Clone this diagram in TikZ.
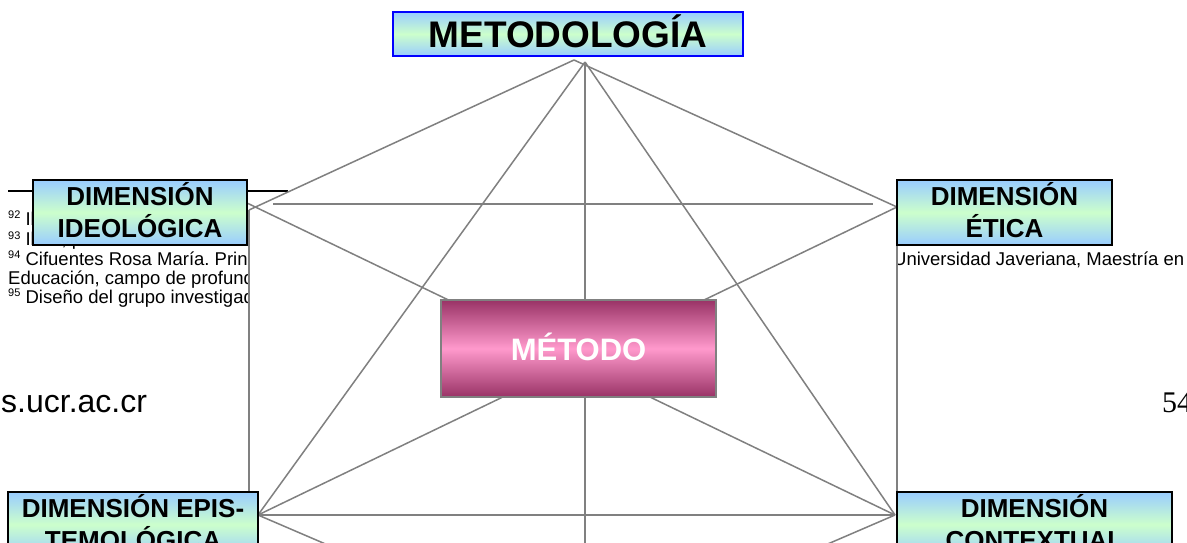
\documentclass[tikz,border=0pt]{standalone}
\usepackage{fontspec}
\setmainfont{Liberation Sans}
\newfontfamily\serifnum{Liberation Serif}
\frenchspacing
\definecolor{gline}{HTML}{808080}
\definecolor{lblue}{HTML}{99CCFF}
\definecolor{lgreen}{HTML}{CCFFCC}
\definecolor{dmag}{HTML}{993366}
\definecolor{lpink}{HTML}{FF99CC}
\newcommand\fnum[1]{\raisebox{6.5pt}{\fontsize{11}{11}\selectfont #1}}
\tikzset{
  conn/.style={draw=gline, line width=1.5pt},
  dimbox/.style={draw=black, line width=1.6pt, top color=lblue, bottom color=lblue, middle color=lgreen, inner sep=0pt, minimum height=65pt},
  metbox/.style={draw=blue, line width=1.6pt, top color=lblue, bottom color=lblue, middle color=lgreen, inner sep=0pt},
  metodobox/.style={draw=gline, line width=1.8pt, top color=dmag, bottom color=dmag, middle color=lpink, inner sep=0pt},
  dimtext/.style={font=\fontsize{26}{31}\selectfont\bfseries, anchor=base, inner sep=0pt},
  fntext/.style={font=\fontsize{18.5}{20}\selectfont, anchor=base west, inner sep=0pt}
}
\begin{document}
\begin{tikzpicture}[x=1pt,y=-1pt]
\useasboundingbox (0,0) rectangle (1187,542);
\clip (0,0) rectangle (1187,542);
\fill[white] (0,0) rectangle (1187,542);

% footnote area of the page behind the diagram
\draw[black, line width=1.5pt] (8,191) -- (288,191);
\node[fntext] (f92) at (8,225) {\fnum{92} Ibíd.};
\node[fntext] (f93) at (8,245.5) {\fnum{93} Ibíd., p. 100.};
\node[fntext] (f94) at (8,265) {\fnum{94} Cifuentes Rosa María. Principios};
\node[fntext] (f94b) at (893,265) {Universidad Javeriana, Maestría en};
\node[fntext] (f94c) at (8,284) {Educación, campo de profundización};
\node[fntext] (f95) at (8,303) {\fnum{95} Diseño del grupo investigador};
\node[font=\fontsize{32}{32}\selectfont, anchor=base west, inner sep=0pt] (url) at (1,412) {s.ucr.ac.cr};
\node[font=\fontsize{30}{30}\selectfont\serifnum, anchor=base west, inner sep=0pt] (pnum) at (1162,412) {54};

% diagram background
\fill[white] (249,195) rectangle (897,542);

% connection points
\coordinate (apL) at (574,60);
\coordinate (apR) at (585,62);
\coordinate (ideoR) at (249,210);
\coordinate (ideoD) at (247,203);
\coordinate (eticaL) at (897,207);
\coordinate (episR) at (258,515);
\coordinate (episV) at (249,515);
\coordinate (contL) at (895,515);
\coordinate (contV) at (897,515);
\coordinate (hL) at (273,204);
\coordinate (hR) at (873,204);
\coordinate (bot) at (577,652);
\coordinate (botv) at (585,660);

% connectors
\draw[conn] (apL) -- (ideoR);
\draw[conn] (apL) -- (eticaL);
\draw[conn] (apR) -- (episR);
\draw[conn] (apR) -- (contL);
\draw[conn] (apR) -- (botv);
\draw[conn] (hL) -- (hR);
\draw[conn] (ideoD) -- (contL);
\draw[conn] (eticaL) -- (episR);
\draw[conn] (ideoR) -- (episV);
\draw[conn] (eticaL) -- (contV);
\draw[conn] (episR) -- (contL);
\draw[conn] (episR) -- (bot);
\draw[conn] (contL) -- (bot);

% boxes
\node[metbox, minimum width=350pt, minimum height=44pt] (metodologia) at (568,34) {};
\node[dimbox, minimum width=214pt] (ideo) at (140,212.5) {};
\node[dimbox, minimum width=215pt] (etica) at (1004.5,212.5) {};
\node[dimbox, minimum width=250pt] (epis) at (133,524.5) {};
\node[dimbox, minimum width=275pt] (cont) at (1034.5,524.5) {};
\node[metodobox, minimum width=275pt, minimum height=97pt] (metodo) at (578.5,348.5) {};

% box texts
\node[font=\fontsize{37}{37}\selectfont\bfseries, anchor=base, inner sep=0pt] (metodologiat) at (568,47) {METODOLOGÍA};
\node[dimtext] (ideo1) at (140,205) {DIMENSIÓN};
\node[dimtext] (ideo2) at (140,237) {IDEOLÓGICA};
\node[dimtext] (etica1) at (1004.5,205) {DIMENSIÓN};
\node[dimtext] (etica2) at (1004.5,237) {ÉTICA};
\node[dimtext] (epis1) at (133,517) {DIMENSIÓN EPIS-};
\node[dimtext] (epis2) at (133,549) {TEMOLÓGICA};
\node[dimtext] (cont1) at (1034.5,517) {DIMENSIÓN};
\node[dimtext] (cont2) at (1034.5,549) {CONTEXTUAL};
\node[font=\fontsize{31}{31}\selectfont\bfseries, text=white, anchor=base, inner sep=0pt] (metodot) at (578.5,360) {MÉTODO};
\end{tikzpicture}
\end{document}
